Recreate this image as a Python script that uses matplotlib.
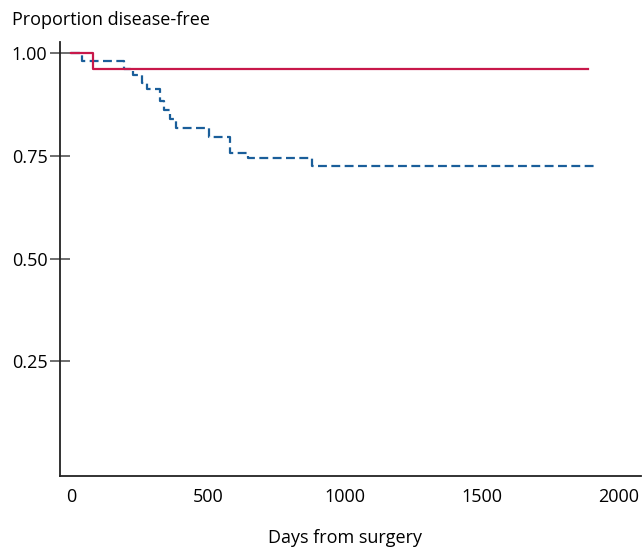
import numpy as np
import matplotlib.pyplot as plt

plt.rcParams['font.family'] = ['Open Sans', 'DejaVu Sans']

# Kaplan-Meier style step data
red_days = [0, 80, 1886]
red_surv = [1.00, 0.961, 0.961]

blue_days = [0, 40, 194, 226, 259, 277, 324, 338, 360, 382, 502, 580, 646, 878, 1912]
blue_surv = [1.00, 0.980, 0.961, 0.947, 0.926, 0.912, 0.883, 0.861, 0.839, 0.818,
             0.795, 0.757, 0.745, 0.726, 0.726]

yticks = [0.25, 0.50, 0.75, 1.00]
ytick_labels = ['0.25', '0.50', '0.75', '1.00']
xticks = [0, 500, 1000, 1500, 2000]

fig = plt.figure(figsize=(6.42, 5.48), dpi=100)
ax = fig.add_axes([0.0935, 0.1314, 0.905, 0.792])

ax.step(blue_days, blue_surv, where='post', color='#1a5e9a', lw=1.6, dashes=(4, 2))
ax.step(red_days, red_surv, where='post', color='#c8184a', lw=1.6)

ax.set_xlim(-40, 2080)
ax.set_ylim(-0.029, 1.027)

ax.set_yticks(yticks)
ax.set_yticklabels(ytick_labels)
ax.set_xticks(xticks)

ax.tick_params(axis='y', direction='inout', length=14, width=1.2, color='#555555',
               labelsize=13, pad=2)
ax.tick_params(axis='x', length=0, labelsize=13, pad=9)

for s in ['top', 'right']:
    ax.spines[s].set_visible(False)
ax.spines['left'].set_linewidth(1.3)
ax.spines['bottom'].set_linewidth(1.3)
ax.spines['left'].set_color('#222222')
ax.spines['bottom'].set_color('#222222')

fig.text(0.019, 0.963, 'Proportion disease-free', fontsize=13, va='center', ha='left')
fig.text(0.537, 0.018, 'Days from surgery', fontsize=13, va='center', ha='center')

fig.savefig('out.png', dpi=100)
